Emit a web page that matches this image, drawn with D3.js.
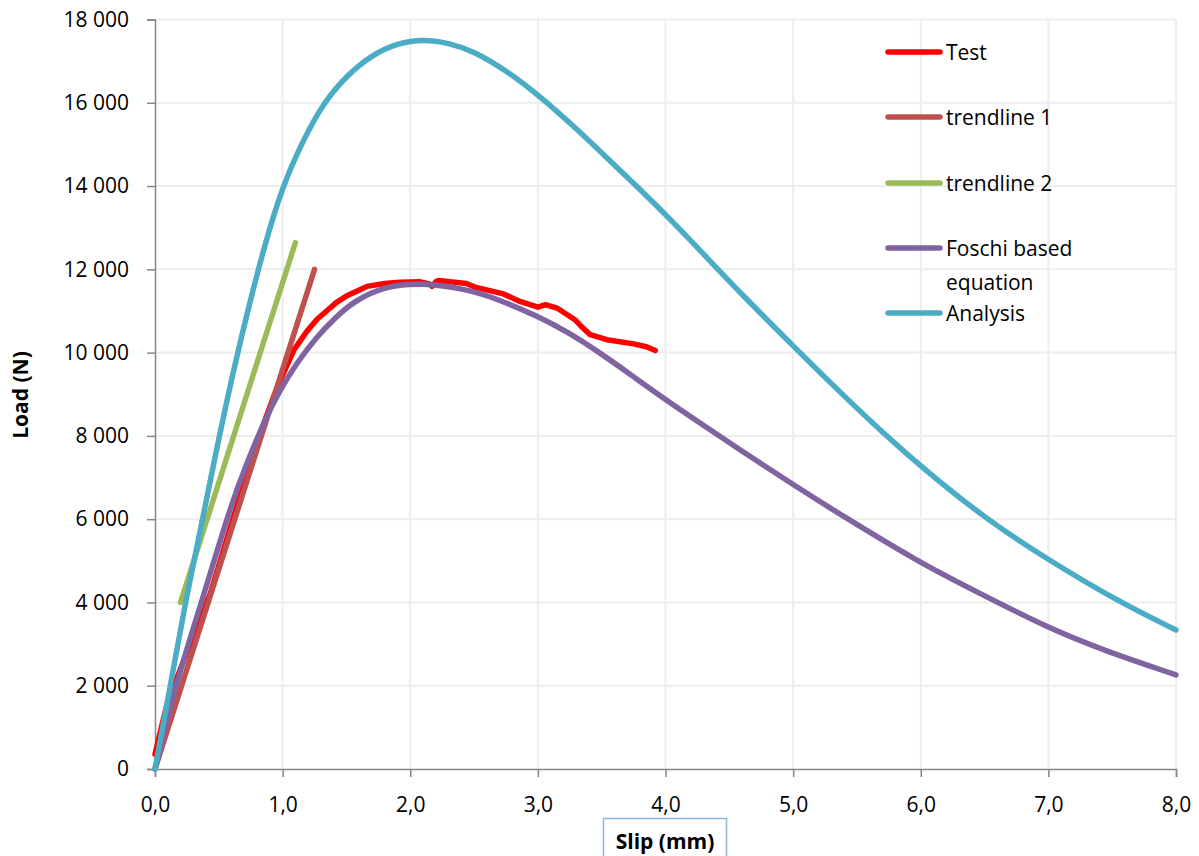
<!DOCTYPE html>
<html>
<head>
<meta charset="utf-8">
<script src="https://cdn.jsdelivr.net/npm/d3@7"></script>
<style>
  html, body { margin: 0; padding: 0; background: #fff; }
  svg { display: block; }
  text { font-family: "Open Sans", "Liberation Sans", sans-serif; fill: #000; }
</style>
</head>
<body>
<svg id="chart" width="1199" height="856"></svg>
<script>
// Load–slip data (slip in mm, load in N)
const testSlip = [0, 0.05, 0.09, 0.14, 0.18, 0.30, 0.434, 0.59, 0.72, 0.825, 0.93, 1.007, 1.09, 1.19, 1.27, 1.42, 1.5, 1.66, 1.8, 1.92, 2.08, 2.15, 2.17, 2.2, 2.22, 2.44, 2.5, 2.73, 2.86, 3.0, 3.06, 3.15, 3.29, 3.34, 3.41, 3.54, 3.75, 3.85, 3.92];
const testLoad = [350, 1000, 1500, 1950, 2250, 3200, 4220, 5800, 7080, 8070, 8950, 9510, 10070, 10510, 10800, 11200, 11360, 11590, 11660, 11690, 11700, 11650, 11590, 11700, 11730, 11660, 11580, 11410, 11230, 11090, 11150, 11070, 10790, 10630, 10430, 10310, 10210, 10140, 10050];

const trend1Slip = [0, 1.25];
const trend1Load = [0, 12000];

const trend2Slip = [0.2, 1.1];
const trend2Load = [4000, 12640];

const foschiSlip = [0, 0.157, 0.38, 0.59, 0.72, 0.85, 0.98, 1.11, 1.27, 1.4, 1.55, 1.79, 2.08, 2.44, 2.70, 3.0, 3.225, 3.49, 3.75, 4.0, 4.27, 4.58, 5.0, 5.37, 6.0, 6.41, 7.0, 7.46, 8.0];
const foschiLoad = [0, 2000, 4150, 6300, 7350, 8310, 9110, 9750, 10390, 10800, 11220, 11590, 11680, 11530, 11270, 10870, 10510, 9990, 9420, 8870, 8310, 7670, 6830, 6110, 4940, 4300, 3380, 2820, 2260];

const analysisSlip = [0, 0.12, 0.24, 0.38, 0.49, 0.62, 0.75, 0.87, 1.0, 1.16, 1.32, 1.5, 1.7, 1.9, 2.1, 2.31, 2.5, 2.76, 3.0, 3.28, 3.54, 3.8, 4.0, 4.36, 4.58, 5.04, 5.37, 5.73, 6.0, 6.51, 7.0, 7.56, 8.0];
const analysisLoad = [0, 2000, 4050, 6100, 7800, 9650, 11300, 12700, 14000, 15100, 16000, 16650, 17150, 17430, 17530, 17430, 17240, 16760, 16200, 15440, 14680, 13920, 13320, 12170, 11450, 10040, 9040, 8000, 7270, 6000, 5020, 4000, 3340];

const xTicks = [0, 1, 2, 3, 4, 5, 6, 7, 8];
const yTicks = [0, 2000, 4000, 6000, 8000, 10000, 12000, 14000, 16000, 18000];

const seriesNames = ["Test", "trendline 1", "trendline 2", "Foschi based\nequation", "Analysis"];
const seriesColors = ["#ff0000", "#c0504d", "#9bbb59", "#8064a2", "#4bacc6"];

const series = [
  { name: seriesNames[0], color: seriesColors[0], xs: testSlip, ys: testLoad, curve: d3.curveLinear },
  { name: seriesNames[1], color: seriesColors[1], xs: trend1Slip, ys: trend1Load, curve: d3.curveLinear },
  { name: seriesNames[2], color: seriesColors[2], xs: trend2Slip, ys: trend2Load, curve: d3.curveLinear },
  { name: seriesNames[3], color: seriesColors[3], xs: foschiSlip, ys: foschiLoad, curve: d3.curveBasis },
  { name: seriesNames[4], color: seriesColors[4], xs: analysisSlip, ys: analysisLoad, curve: d3.curveBasis }
];

const svg = d3.select("#chart");
const plotLeft = 155, plotRight = 1176, plotTop = 19.5, plotBottom = 769;

const x = d3.scaleLinear().domain([0, 8]).range([plotLeft, plotRight]);
const y = d3.scaleLinear().domain([0, 18000]).range([plotBottom, plotTop]);

const fmtX = d => d.toFixed(1).replace(".", ",");
const fmtY = d => d3.format(",")(d).replace(/,/g, " ");

// Gridlines
const grid = svg.append("g");
grid.selectAll("line.h").data(yTicks.filter(d => d > 0)).enter().append("line")
  .attr("class", "h")
  .attr("x1", plotLeft).attr("x2", plotRight)
  .attr("y1", d => y(d)).attr("y2", d => y(d))
  .attr("stroke", "#ededed").attr("stroke-width", 2);
grid.selectAll("line.v").data(xTicks.filter(d => d > 0)).enter().append("line")
  .attr("class", "v")
  .attr("x1", d => x(d)).attr("x2", d => x(d))
  .attr("y1", plotTop).attr("y2", plotBottom)
  .attr("stroke", "#ededed").attr("stroke-width", 2);

// Axes
const yAxis = d3.axisLeft(y).tickValues(yTicks).tickFormat(fmtY).tickSize(8).tickPadding(18);
const xAxis = d3.axisBottom(x).tickValues(xTicks).tickFormat(fmtX).tickSize(8).tickPadding(20);

const gy = svg.append("g").attr("transform", `translate(${plotLeft},0)`).call(yAxis);
const gx = svg.append("g").attr("transform", `translate(0,${plotBottom})`).call(xAxis);
[gx, gy].forEach(g => {
  g.select(".domain").attr("stroke", "#868686").attr("stroke-width", 1.5);
  g.selectAll(".tick line").attr("stroke", "#868686").attr("stroke-width", 1.5);
  g.selectAll(".tick text").attr("font-size", 21).attr("fill", "#000")
    .style("font-family", '"Open Sans", "Liberation Sans", sans-serif');
});

// Data lines
const plot = svg.append("g");
series.forEach(s => {
  const pts = s.xs.map((v, i) => [v, s.ys[i]]);
  const line = d3.line().x(d => x(d[0])).y(d => y(d[1])).curve(s.curve);
  plot.append("path")
    .attr("d", line(pts))
    .attr("fill", "none")
    .attr("stroke", s.color)
    .attr("stroke-width", 5.5)
    .attr("stroke-linecap", "round")
    .attr("stroke-linejoin", "round");
});

// Legend
const legendY = [52, 117, 183, 248, 313];
const legend = svg.append("g");
series.forEach((s, i) => {
  const ly = legendY[i];
  legend.append("line")
    .attr("x1", 888).attr("x2", 940).attr("y1", ly).attr("y2", ly)
    .attr("stroke", s.color).attr("stroke-width", 5.5).attr("stroke-linecap", "round");
  const t = legend.append("text").attr("x", 946).attr("y", ly + 7.5).attr("font-size", 21);
  s.name.split("\n").forEach((part, k) => {
    t.append("tspan").attr("x", 946).attr("dy", k === 0 ? 0 : 34).text(part);
  });
});

// Axis titles
svg.append("text")
  .attr("transform", `translate(28,395) rotate(-90)`)
  .attr("text-anchor", "middle")
  .attr("font-size", 21).attr("font-weight", "bold")
  .text("Load (N)");

svg.append("rect")
  .attr("x", 603.5).attr("y", 818.5).attr("width", 123).attr("height", 60)
  .attr("fill", "none").attr("stroke", "#8eb4e3").attr("stroke-width", 1.5);
svg.append("text")
  .attr("x", 665).attr("y", 849)
  .attr("text-anchor", "middle")
  .attr("font-size", 21).attr("font-weight", "bold")
  .text("Slip (mm)");
</script>
</body>
</html>
